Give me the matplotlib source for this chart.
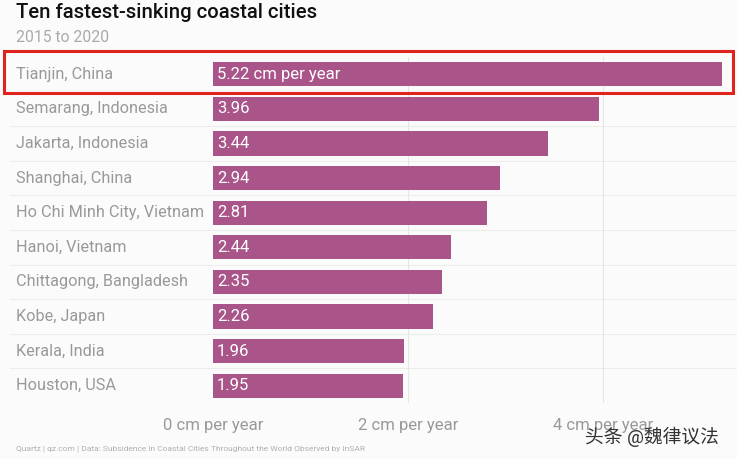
import matplotlib
matplotlib.use("Agg")
import matplotlib.pyplot as plt
from matplotlib.patches import Rectangle
from matplotlib.transforms import blended_transform_factory

cities = ["Tianjin, China", "Semarang, Indonesia", "Jakarta, Indonesia", "Shanghai, China",
          "Ho Chi Minh City, Vietnam", "Hanoi, Vietnam", "Chittagong, Bangladesh",
          "Kobe, Japan", "Kerala, India", "Houston, USA"]
rates = [5.22, 3.96, 3.44, 2.94, 2.81, 2.44, 2.35, 2.26, 1.96, 1.95]
tick_vals = [0, 2, 4]
tick_labels = ["0 cm per year", "2 cm per year", "4 cm per year"]

plt.rcParams['font.family'] = ['Roboto', 'Noto Sans CJK SC', 'DejaVu Sans']

W, H = 737, 459
fig = plt.figure(figsize=(W / 100, H / 100), dpi=100)
fig.patch.set_facecolor('#fbfbfb')

def fx(px):
    return px / W

def fy(py):
    return 1 - py / H

ax_left, ax_right = 213, 725
ax_top, ax_bot = 57, 403
ax = fig.add_axes([fx(ax_left), fy(ax_bot), fx(ax_right - ax_left), (ax_bot - ax_top) / H])
ax.set_facecolor('none')
n = len(cities)
ys = list(range(n))
ax.barh(ys, rates, height=0.7, color='#a9558a', zorder=3)
ax.set_ylim(n - 0.5, -0.5)
ax.set_xlim(0, 5.25)
for s in ax.spines.values():
    s.set_visible(False)
ax.set_yticks([])
ax.set_xticks(tick_vals)
ax.set_xticklabels(tick_labels, color='#999999', fontsize=12)
ax.tick_params(axis='x', length=0, pad=11)
for v in tick_vals[1:]:
    ax.axvline(v, color='#e6e6e6', lw=0.8, zorder=1)

tr = blended_transform_factory(fig.transFigure, ax.transData)
for i, (c, r) in enumerate(zip(cities, rates)):
    lab = f"{r:.2f} cm per year" if i == 0 else f"{r:.2f}"
    ax.text(0.04, i, lab, color='white', fontsize=12, va='center', ha='left', zorder=4)
    ax.text(fx(16), i, c, transform=tr, color='#999999', fontsize=11.7, va='center', ha='left')

# row separators
for i in range(n - 1):
    ax.plot([fx(10), fx(735)], [i + 0.5, i + 0.5], transform=tr, color='#ececec', lw=0.8,
            clip_on=False, zorder=0)

# title
fig.text(fx(16), fy(13), "Ten fastest-sinking coastal cities", fontsize=14.6, color='#111111',
         fontweight='medium', va='center', ha='left')
fig.text(fx(16), fy(37), "2015 to 2020", fontsize=11.3, color='#aaaaaa', va='center', ha='left')
fig.text(fx(16), fy(449), "Quartz | qz.com | Data: Subsidence in Coastal Cities Throughout the World Observed by InSAR",
         fontsize=6.0, color='#b0b0b0', va='center', ha='left')
fig.text(fx(585), fy(437), "头条 @魏律议法", fontsize=13.5, color='#333333', va='center', ha='left')

# highlight box
fig.add_artist(Rectangle((fx(4), fy(93)), fx(729), (93 - 51) / H, transform=fig.transFigure,
                         fill=False, edgecolor='#e0231c', lw=2.2))

fig.savefig('out.png', dpi=100, facecolor=fig.get_facecolor())
